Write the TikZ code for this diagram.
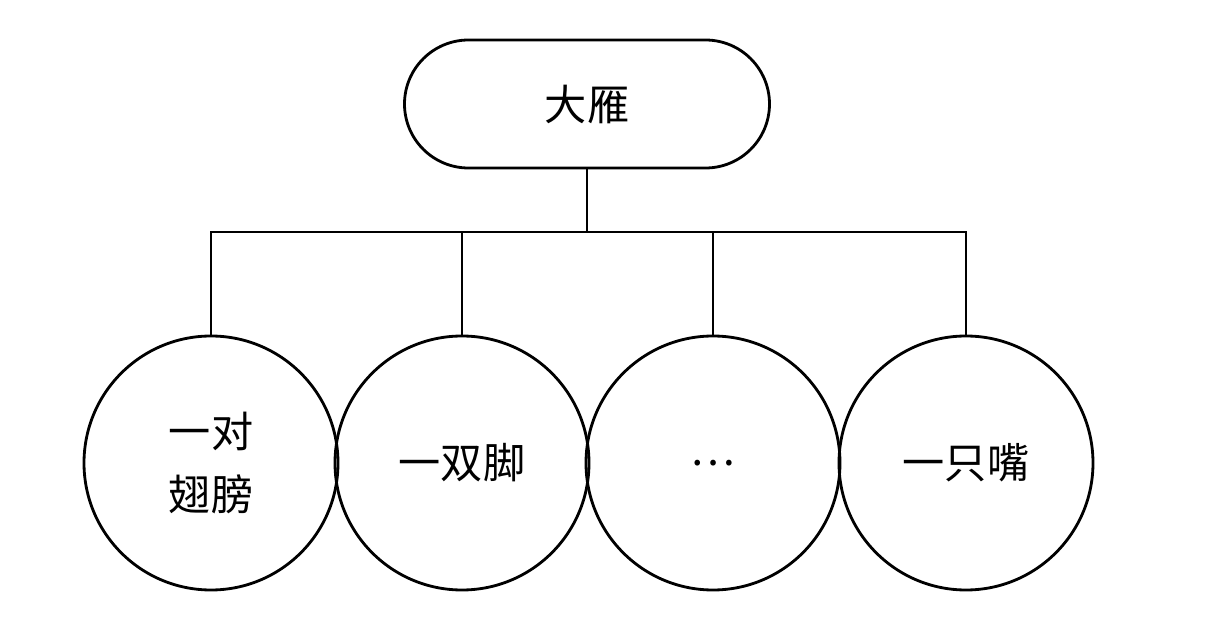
\documentclass[tikz,border=0pt]{standalone}
\usepackage{fontspec}
\newfontfamily\cjk{Noto Sans CJK SC}
\tikzset{
  rootbox/.style={draw, line width=1.6pt, rounded corners=64*0.02cm, minimum width=365*0.02cm, minimum height=128*0.02cm, font=\cjk\fontsize{24}{34}\selectfont},
  partcircle/.style={draw, circle, line width=1.6pt, minimum size=254*0.02cm, align=center, font=\cjk\fontsize{24}{36}\selectfont},
}
\begin{document}
\begin{tikzpicture}[x=0.02cm, y=-0.02cm, line width=1.6pt]
\useasboundingbox (0,0) rectangle (1215,638);

% Wurzel
\node[rootbox] (goose) at (587,104) {大雁};

% Teile
\node[partcircle] (wings) at (211,463) {一对\\翅膀};
\node[partcircle] (feet) at (462,463) {一双脚};
\node[partcircle] (more) at (713,463) {\dots};
\node[partcircle] (beak) at (966,463) {一只嘴};

% Verbindungen
\coordinate (bar) at (587,232);
\draw (goose.south) -- (bar);
\draw (wings.north) |- (bar) -| (beak.north);
\draw (feet.north) -- (feet.north |- bar);
\draw (more.north) -- (more.north |- bar);
\end{tikzpicture}
\end{document}
